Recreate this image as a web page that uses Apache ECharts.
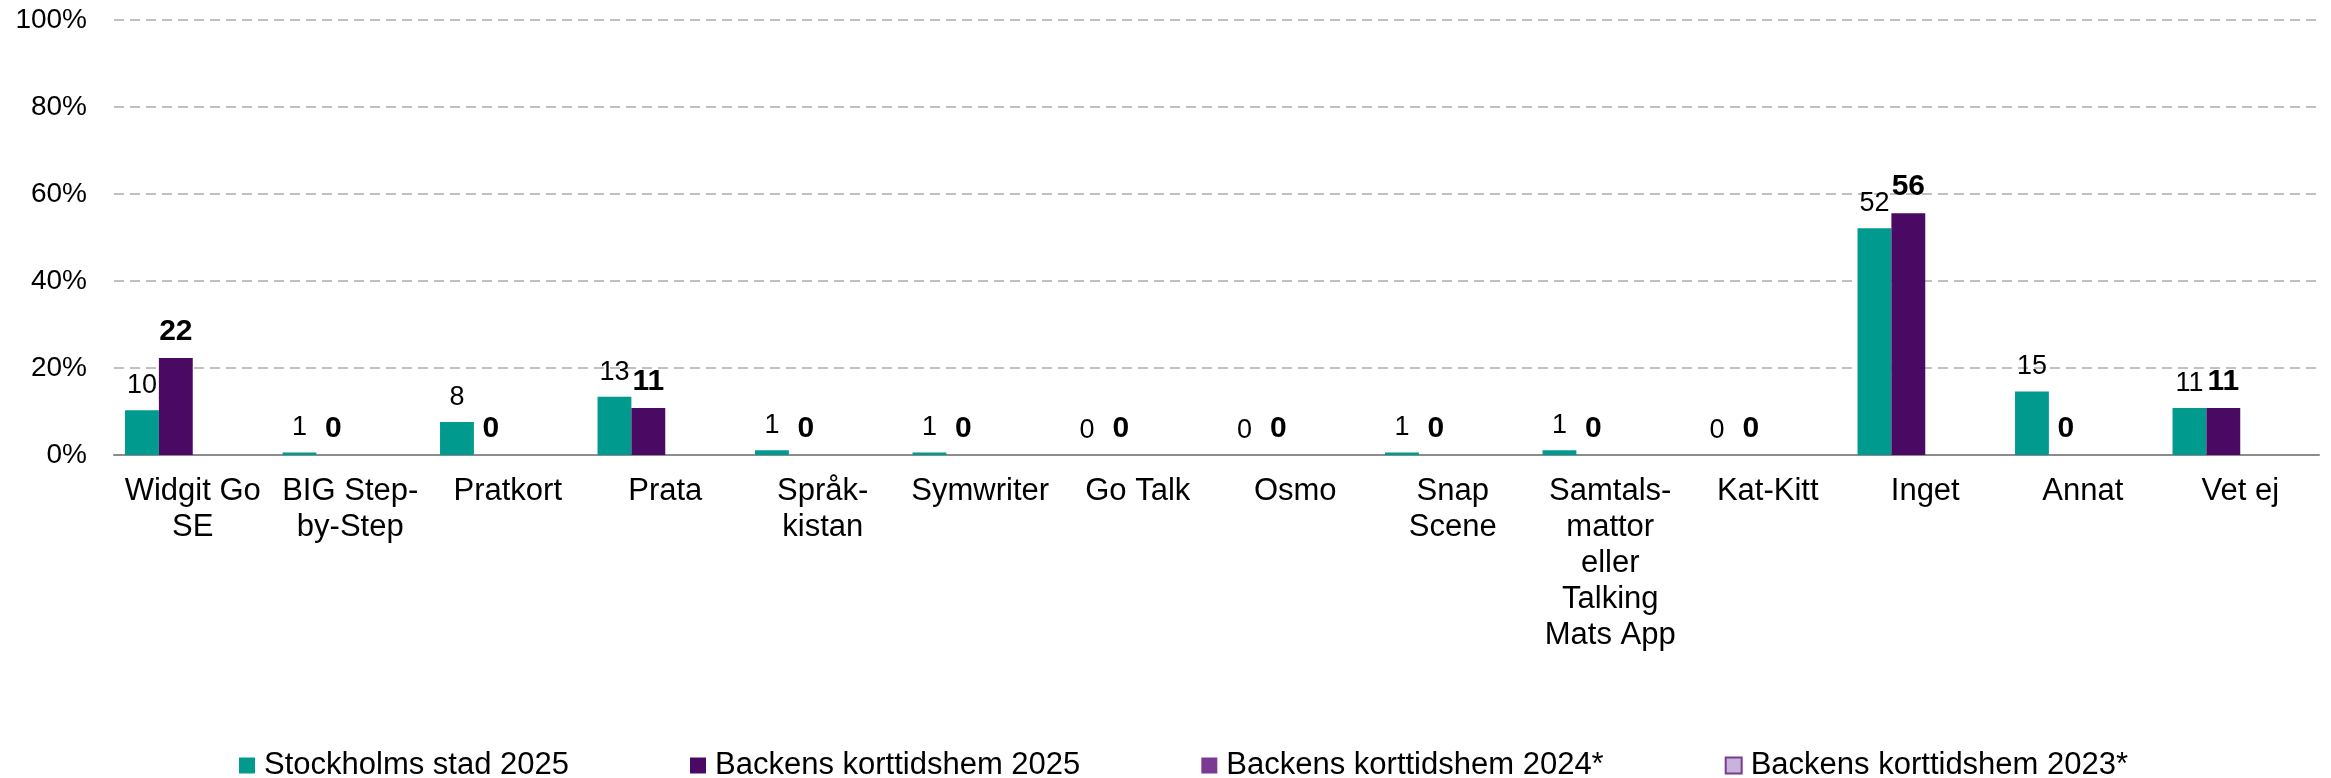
<!DOCTYPE html>
<html>
<head>
<meta charset="utf-8">
<script src="https://cdn.jsdelivr.net/npm/echarts@6/dist/echarts.min.js"></script>
<style>
  html, body { margin: 0; padding: 0; background: #ffffff; }
  #chart { width: 2331px; height: 778px; }
</style>
</head>
<body>
<div id="chart"></div>
<script>
// kategorier (radbrytningar som i originalet)
var categories = [
  "Widgit Go\nSE", "BIG Step-\nby-Step", "Pratkort", "Prata", "Språk-\nkistan",
  "Symwriter", "Go Talk", "Osmo", "Snap\nScene",
  "Samtals-\nmattor\neller\nTalking\nMats App", "Kat-Kitt", "Inget", "Annat", "Vet ej"
];
var seriesNames = [
  "Stockholms stad 2025", "Backens korttidshem 2025",
  "Backens korttidshem 2024*", "Backens korttidshem 2023*"
];
// procent
var stockholm2025 = [10.3, 0.6, 7.6, 13.4, 1.1, 0.6, 0, 0, 0.6, 1.1, 0, 52.1, 14.6, 10.8];
var backens2025 = [22.3, 0, 0, 10.8, 0, 0, 0, 0, 0, 0, 0, 55.6, 0, 10.8];
var backens2024 = [];
var backens2023 = [];
var yTicks = [0, 20, 40, 60, 80, 100];

var font = "'Liberation Sans', Arial, sans-serif";
var chart = echarts.init(document.getElementById("chart"));

var option = {
  animation: false,
  textStyle: { fontFamily: font },
  grid: { left: 114, right: 12, top: 20, bottom: 323 },
  legend: {
    left: 234,
    top: 745,
    icon: "rect",
    itemWidth: 16,
    itemHeight: 16,
    itemGap: 121,
    data: seriesNames,
    textStyle: { fontSize: 31, color: "#000", fontFamily: font, padding: [0, 0, 0, 4] }
  },
  xAxis: {
    type: "category",
    data: categories,
    axisLine: { lineStyle: { color: "#8c8c8c", width: 2 } },
    axisTick: { length: 10, lineStyle: { color: "#8c8c8c", width: 2 } },
    axisLabel: {
      interval: 0,
      margin: 18,
      fontSize: 31,
      lineHeight: 36,
      color: "#000",
      fontFamily: font
    }
  },
  yAxis: {
    type: "value",
    min: yTicks[0],
    max: yTicks[yTicks.length - 1],
    interval: 20,
    axisLine: { show: false },
    axisTick: { show: false },
    axisLabel: { formatter: "{value}%", fontSize: 28, color: "#000", margin: 27, fontFamily: font },
    splitLine: { lineStyle: { color: "#c0c0c0", width: 2, type: [10, 6] } }
  },
  series: [
    {
      name: seriesNames[0],
      type: "bar",
      data: stockholm2025,
      barGap: "0%",
      barCategoryGap: "14%",
      itemStyle: { color: "#009a8f" },
      label: {
        show: true,
        position: "top",
        distance: 11,
        fontSize: 27,
        color: "#000",
        fontFamily: font,
        formatter: function(p) { return Math.round(p.value); }
      }
    },
    {
      name: seriesNames[1],
      type: "bar",
      data: backens2025,
      itemStyle: { color: "#4a0a64" },
      label: {
        show: true,
        position: "top",
        distance: 11,
        fontSize: 30,
        fontWeight: "bold",
        color: "#000",
        fontFamily: font,
        formatter: function(p) { return Math.round(p.value); }
      }
    },
    {
      name: seriesNames[2],
      type: "bar",
      data: backens2024,
      itemStyle: { color: "#7b3994" }
    },
    {
      name: seriesNames[3],
      type: "bar",
      data: backens2023,
      itemStyle: { color: "#c8b4db", borderColor: "#7b3994", borderWidth: 2 }
    }
  ]
};

chart.setOption(option);
window.addEventListener("resize", function() {
  chart.resize();
});
</script>
</body>
</html>
